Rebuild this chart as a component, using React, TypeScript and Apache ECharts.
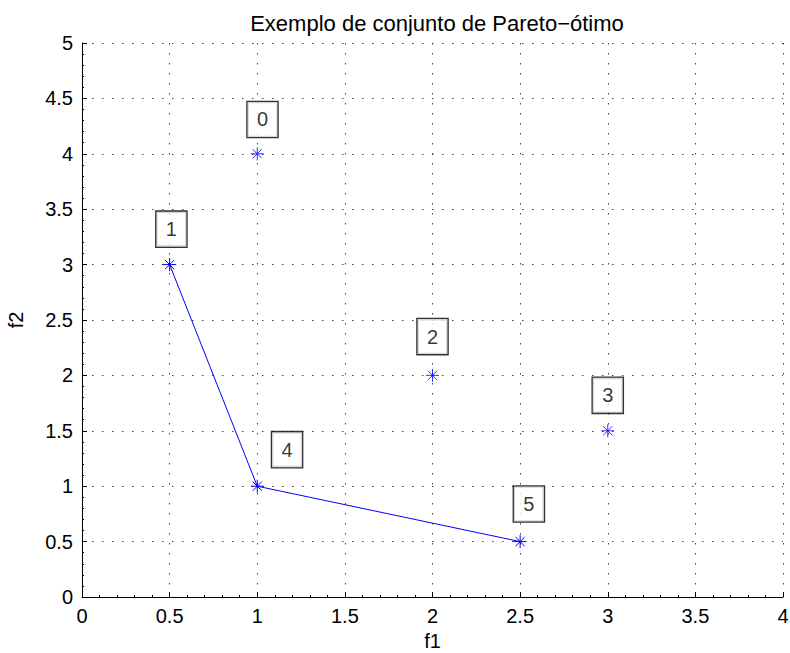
import React, { useEffect, useRef } from "react";
import * as echarts from "echarts";

const paretoX = [0.5, 1, 2.5];
const paretoY = [3, 1, 0.5];
const otherX = [1, 2, 3];
const otherY = [4, 2, 1.5];
const labelText = ["0", "1", "2", "3", "4", "5"];
const labelX = [1.03, 0.51, 2.0, 3.0, 1.17, 2.55];
const labelY = [4.31, 3.32, 2.35, 1.82, 1.33, 0.84];

const FONT = "'Liberation Sans', Arial, Helvetica, sans-serif";
const BLUE = "#0000ff";
const ASTERISK =
  "path://M0,-10L0,10M-10,0L10,0M-7.07,-7.07L7.07,7.07M-7.07,7.07L7.07,-7.07";

export default function App() {
  const ref = useRef<HTMLDivElement>(null);
  useEffect(() => {
    if (!ref.current) return;
    const chart = echarts.init(ref.current, undefined, { renderer: "svg" });
    const axisCommon = {
      axisLine: { show: true, onZero: false, lineStyle: { color: "#000", width: 1 } },
      axisTick: { show: true, inside: true, length: 5, lineStyle: { color: "#000" } },
      minorTick: { show: true, splitNumber: 5, length: 2, lineStyle: { color: "#000" } },
      splitLine: {
        show: true,
        lineStyle: { color: "#444", width: 1, type: [1.5, 8.5] },
      },
      axisLabel: { color: "#000", fontSize: 20, fontFamily: FONT, margin: 9 },
      nameTextStyle: { color: "#000", fontSize: 20, fontFamily: FONT },
      nameLocation: "middle" as const,
    };
    chart.setOption({
      animation: false,
      backgroundColor: "#fff",
      title: {
        text: "Exemplo de conjunto de Pareto\u2212\u00f3timo",
        left: 432,
        textAlign: "center",
        top: 7,
        textStyle: { color: "#000", fontSize: 22, fontWeight: "normal", fontFamily: FONT },
      },
      grid: {
        left: 82,
        right: 7,
        top: 43,
        bottom: 56,
        containLabel: false,
        outerBoundsMode: "none",
      },
      xAxis: {
        type: "value",
        min: 0,
        max: 4,
        interval: 0.5,
        name: "f1",
        nameGap: 23,
        ...axisCommon,
      },
      yAxis: {
        type: "value",
        min: 0,
        max: 5,
        interval: 0.5,
        name: "f2",
        nameGap: 56,
        ...axisCommon,
      },
      series: [
        {
          type: "line",
          data: paretoX.map((x, i) => [x, paretoY[i]]),
          symbol: ASTERISK,
          symbolSize: 13,
          showAllSymbol: true,
          lineStyle: { color: BLUE, width: 1 },
          itemStyle: { color: "transparent", borderColor: BLUE, borderWidth: 1 },
          z: 3,
        },
        {
          type: "scatter",
          data: otherX.map((x, i) => [x, otherY[i]]),
          symbol: ASTERISK,
          symbolSize: 13,
          itemStyle: { color: "transparent", borderColor: BLUE, borderWidth: 1 },
          z: 3,
        },
        {
          type: "scatter",
          data: labelX.map((x, i) => ({ value: [x, labelY[i]], name: labelText[i] })),
          symbolSize: 0,
          silent: true,
          z: 4,
          label: {
            show: true,
            position: "inside",
            formatter: (p: any) => p.name,
            color: "#000",
            fontSize: 20,
            fontFamily: FONT,
            backgroundColor: "#fff",
            borderColor: "#000",
            borderWidth: 1.3,
            width: 30,
            height: 35,
            lineHeight: 35,
            align: "center",
            verticalAlign: "middle",
            padding: 0,
          },
        },
      ],
    });
    return () => chart.dispose();
  }, []);
  return (
    <div
      ref={ref}
      style={{ position: "fixed", left: 0, top: 0, width: 790, height: 653, background: "#fff" }}
    />
  );
}
